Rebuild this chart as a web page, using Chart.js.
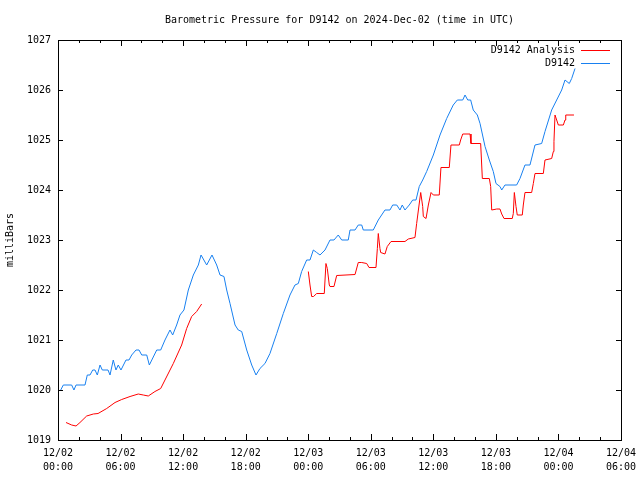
<!DOCTYPE html>
<html>
<head>
<meta charset="utf-8">
<script src="https://cdn.jsdelivr.net/npm/chart.js@4"></script>
<style>
  body { margin: 0; background: #fff; }
  canvas { display: block; }
</style>
</head>
<body>
<canvas id="pressureChart" width="640" height="480"></canvas>
<script>
// hours since 12/02 00:00 UTC
const stationHours = [
  0.26, 0.51, 1.31, 1.53, 1.73, 2.59, 2.81, 3.07, 3.33, 3.55, 3.77, 4.03, 4.25,
  4.8, 4.99, 5.3, 5.56, 5.78, 6.04, 6.52, 6.81, 7.07, 7.48, 7.77, 8.03, 8.51,
  8.76, 9.47, 9.85, 10.26, 10.74, 11.0, 11.38, 11.7, 12.08, 12.5, 12.98, 13.46,
  13.72, 14.26, 14.77, 15.22, 15.54, 15.92, 16.18, 16.5, 16.98, 17.29, 17.62,
  18.1, 18.58, 18.99, 19.37, 19.85, 20.33, 20.98, 21.61, 22.25, 22.73, 23.05,
  23.37, 23.85, 24.17, 24.49, 24.81, 25.13, 25.61, 26.09, 26.47, 26.88, 27.21,
  27.84, 28.01, 28.49, 28.8, 29.13, 29.28, 30.24, 30.72, 31.36, 31.84, 32.1,
  32.49, 32.8, 33.02, 33.28, 33.69, 34.02, 34.34, 34.65, 34.98, 35.36, 36.0,
  36.64, 37.28, 37.91, 38.3, 38.82, 39.04, 39.3, 39.58, 39.83, 40.22, 40.48,
  40.96, 41.37, 41.75, 42.01, 42.39, 42.56, 42.87, 43.99, 44.31, 44.79, 45.27,
  45.75, 46.39, 46.71, 47.35, 47.83, 48.31, 48.63, 49.04, 49.27, 49.59,
]
const stationPressure = [
  1020.0, 1020.1, 1020.1, 1020.0, 1020.1, 1020.1, 1020.3, 1020.3, 1020.4, 1020.4,
  1020.3, 1020.5, 1020.4, 1020.4, 1020.3, 1020.6, 1020.4, 1020.5, 1020.4, 1020.6,
  1020.6, 1020.7, 1020.8, 1020.8, 1020.7, 1020.7, 1020.5, 1020.8, 1020.8, 1021.0,
  1021.2, 1021.1, 1021.3, 1021.5, 1021.6, 1022.0, 1022.3, 1022.5, 1022.7, 1022.5,
  1022.7, 1022.5, 1022.3, 1022.27, 1022.0, 1021.73, 1021.3, 1021.2, 1021.17,
  1020.8, 1020.5, 1020.3, 1020.43, 1020.53, 1020.73, 1021.13, 1021.53, 1021.9,
  1022.1, 1022.13, 1022.37, 1022.6, 1022.6, 1022.8, 1022.75, 1022.7, 1022.8,
  1023.0, 1023.0, 1023.1, 1023.0, 1023.0, 1023.2, 1023.2, 1023.3, 1023.3, 1023.2,
  1023.2, 1023.4, 1023.6, 1023.6, 1023.7, 1023.7, 1023.6, 1023.7, 1023.6, 1023.7,
  1023.8, 1023.8, 1024.07, 1024.2, 1024.37, 1024.7, 1025.1, 1025.43, 1025.7,
  1025.8, 1025.8, 1025.9, 1025.8, 1025.8, 1025.6, 1025.5, 1025.33, 1024.87,
  1024.6, 1024.37, 1024.13, 1024.07, 1024.0, 1024.1, 1024.1, 1024.23, 1024.5,
  1024.5, 1024.9, 1024.93, 1025.17, 1025.6, 1025.8, 1026.0, 1026.2, 1026.13,
  1026.23, 1026.43,
]

const analysisHours = [
  0.77, 1.31, 1.73, 2.11, 2.75, 3.39, 3.84, 4.67, 5.47, 6.11, 6.91, 7.7, 8.18,
  8.66, 9.3, 9.85, 10.26, 11.06, 11.86, 12.34, 12.82, 13.3, 13.78,
  19.0,
  24.01, 24.17, 24.33, 24.51, 24.81, 25.54, 25.7, 25.83, 26.02, 26.09, 26.47,
  26.73, 28.49, 28.8, 29.13, 29.61, 29.83, 30.5, 30.63, 30.72, 30.88, 30.95,
  31.36, 31.58, 31.94, 33.28, 33.6, 34.24, 34.4, 34.63, 34.79, 34.98, 35.04,
  35.3, 35.52, 35.78, 36.0, 36.57, 36.73, 37.53, 37.69, 38.49, 38.62, 38.82,
  39.52, 39.61, 40.54, 40.7, 41.37, 41.5, 41.6, 42.08, 42.39, 42.56, 42.78,
  43.57, 43.67, 43.77, 43.93, 44.05, 44.53, 44.63, 44.79, 45.43, 45.59, 45.75,
  46.55, 46.71, 47.35, 47.51, 47.57, 47.67, 47.83, 47.99, 48.47, 48.63, 48.7,
  49.49,
]
const analysisPressure = [
  1019.35, 1019.3, 1019.28, 1019.35, 1019.48, 1019.52, 1019.53, 1019.63, 1019.75,
  1019.81, 1019.87, 1019.92, 1019.9, 1019.88, 1019.97, 1020.03, 1020.2, 1020.53,
  1020.9, 1021.23, 1021.47, 1021.57, 1021.72,
  null,
  1022.37, 1022.1, 1021.87, 1021.87, 1021.93, 1021.93, 1022.53, 1022.43, 1022.1,
  1022.07, 1022.07, 1022.29, 1022.31, 1022.55, 1022.55, 1022.53, 1022.45,
  1022.45, 1022.83, 1023.13, 1022.83, 1022.75, 1022.72, 1022.87, 1022.97,
  1022.97, 1023.02, 1023.05, 1023.33, 1023.7, 1023.95, 1023.67, 1023.47,
  1023.43, 1023.7, 1023.95, 1023.9, 1023.9, 1024.45, 1024.45, 1024.9, 1024.9,
  1025.0, 1025.12, 1025.12, 1024.93, 1024.93, 1024.23, 1024.23, 1024.07, 1023.6,
  1023.62, 1023.62, 1023.52, 1023.43, 1023.43, 1023.53, 1023.95, 1023.67, 1023.5,
  1023.5, 1023.7, 1023.95, 1023.95, 1024.13, 1024.33, 1024.33, 1024.6, 1024.63,
  1024.77, 1024.97, 1025.5, 1025.4, 1025.3, 1025.3, 1025.4, 1025.5, 1025.5,
]

const dayLabels = ['12/02', '12/02', '12/02', '12/02', '12/03', '12/03', '12/03', '12/03', '12/04', '12/04']
const timeLabels = ['00:00', '06:00', '12:00', '18:00', '00:00', '06:00', '12:00', '18:00', '00:00', '06:00']

const FONT = '"DejaVu Sans Mono", "Liberation Mono", monospace'

function toPoints(hours, values) {
  return hours.map((h, i) => ({ x: h, y: values[i] }))
}

// gnuplot style frame, inward tics, title and legend
const gnuplotDecor = {
  id: 'gnuplotDecor',
  afterDraw(chart) {
    const { ctx, chartArea: a, scales } = chart
    ctx.save()
    ctx.strokeStyle = '#000'
    ctx.lineWidth = 1
    ctx.beginPath()
    for (let h = 0; h <= 54; h += 2) {
      const x = Math.round(scales.x.getPixelForValue(h)) + 0.5
      const len = h % 6 === 0 ? 6 : 3
      ctx.moveTo(x, a.bottom)
      ctx.lineTo(x, a.bottom - len)
      ctx.moveTo(x, a.top)
      ctx.lineTo(x, a.top + len)
    }
    for (let v = 1019; v <= 1027; v++) {
      const y = Math.round(scales.y.getPixelForValue(v)) + 0.5
      ctx.moveTo(a.left, y)
      ctx.lineTo(a.left + 5, y)
      ctx.moveTo(a.right, y)
      ctx.lineTo(a.right - 5, y)
    }
    ctx.stroke()
    ctx.strokeRect(a.left + 0.5, a.top + 0.5, a.right - a.left, a.bottom - a.top)

    ctx.fillStyle = '#000'
    ctx.font = '10px ' + FONT
    ctx.textBaseline = 'middle'
    ctx.textAlign = 'center'
    ctx.fillText('Barometric Pressure for D9142 on 2024-Dec-02 (time in UTC)', (a.left + a.right) / 2, 20)

    ctx.textAlign = 'right'
    chart.data.datasets.forEach((ds, i) => {
      const y = 50 + i * 13
      ctx.fillStyle = '#000'
      ctx.fillText(ds.label, 575, y)
      ctx.strokeStyle = ds.borderColor
      ctx.beginPath()
      ctx.moveTo(581, y + 0.5)
      ctx.lineTo(610, y + 0.5)
      ctx.stroke()
    })
    ctx.restore()
  },
}

const pressureCtx = document.getElementById('pressureChart')
const pressureChart = new Chart(pressureCtx, {
  type: 'line',
  data: {
    datasets: [
      {
        label: 'D9142 Analysis',
        data: toPoints(analysisHours, analysisPressure),
        borderColor: 'rgb(255, 0, 0)',
        borderWidth: 1,
        pointRadius: 0,
        spanGaps: false,
      },
      {
        label: 'D9142',
        data: toPoints(stationHours, stationPressure),
        borderColor: 'rgb(24, 128, 240)',
        borderWidth: 1,
        pointRadius: 0,
      },
    ],
  },
  options: {
    responsive: false,
    animation: false,
    layout: { padding: { top: 40, right: 19, left: 0, bottom: 0 } },
    plugins: {
      legend: { display: false },
      title: { display: false },
      tooltip: { enabled: false },
    },
    scales: {
      x: {
        type: 'linear',
        min: 0,
        max: 54,
        afterFit: (scale) => {
          scale.height = 40
          scale.paddingLeft = 0
          scale.paddingRight = 0
        },
        border: { display: false },
        grid: { display: false, drawTicks: false },
        ticks: {
          stepSize: 6,
          autoSkip: false,
          maxRotation: 0,
          padding: 7,
          color: '#000',
          font: { family: FONT, size: 10, lineHeight: 1.35 },
          callback: (v) => [dayLabels[v / 6], timeLabels[v / 6]],
        },
      },
      y: {
        min: 1019,
        max: 1027,
        afterFit: (scale) => {
          scale.width = 58
          scale.paddingTop = 0
          scale.paddingBottom = 0
        },
        border: { display: false },
        grid: { display: false, drawTicks: false },
        title: {
          display: true,
          text: 'milliBars',
          color: '#000',
          font: { family: FONT, size: 10 },
          padding: { top: 4, bottom: 0 },
        },
        ticks: {
          stepSize: 1,
          padding: 7,
          color: '#000',
          font: { family: FONT, size: 10 },
          callback: (v) => String(v),
        },
      },
    },
  },
  plugins: [gnuplotDecor],
})
</script>
</body>
</html>
